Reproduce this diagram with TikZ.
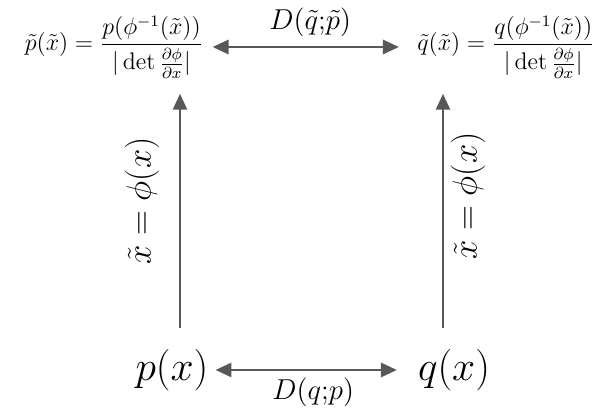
\documentclass[tikz,border=0pt]{standalone}
\usepackage{amsmath}
\usetikzlibrary{arrows.meta, positioning, calc}
\definecolor{ArrowGray}{RGB}{88, 88, 88}

\begin{document}
\begin{tikzpicture}[x=0.5pt,y=0.5pt,
  conn/.style={ArrowGray, line width=1.4pt,
    {Triangle[length=8pt,width=7pt]}-{Triangle[length=8pt,width=7pt]}},
  uparrow/.style={ArrowGray, line width=1.4pt, -{Triangle[length=8pt,width=7pt]}},
  dist/.style={text=black, font=\fontsize{15.5}{18}\selectfont},
  density/.style={font=\fontsize{19.5}{23}\selectfont},
  mapping/.style={font=\fontsize{18.5}{22}\selectfont, rotate=90},
  pushed/.style={font=\fontsize{11.5}{14}\selectfont}]
  \path[use as bounding box] (0,0) rectangle (606,411);

  % Transformed densities (top row)
  \node[pushed] (ptil) at (114,364)
    {$\displaystyle \tilde{p}(\tilde{x}) = \frac{p(\phi^{-1}(\tilde{x}))}{|\det\frac{\partial\phi}{\partial x}|}$};
  \node[pushed] (qtil) at (506,364)
    {$\displaystyle \tilde{q}(\tilde{x}) = \frac{q(\phi^{-1}(\tilde{x}))}{|\det\frac{\partial\phi}{\partial x}|}$};

  % Original densities (bottom row)
  \node[density] (px) at (172,41) {$p(x)$};
  \node[density] (qx) at (454,41) {$q(x)$};

  \coordinate (lx) at (180,0);
  \coordinate (rx) at (443,0);

  % Divergences
  \draw[conn, shorten <=1.2pt, shorten >=5.7pt] (ptil.east) -- (qtil.west)
    node[dist, midway, above=1pt] (dtop) {$D(\tilde{q}{;}\tilde{p})$};
  \draw[conn, shorten <=0pt, shorten >=7pt] (px.east) -- (qx.west)
    node[dist, midway, below] (dbot) {$D(q{;}p)$};

  % Change of variables
  \draw[uparrow, shorten <=7pt, shorten >=4.2pt] (px.north -| lx) -- (ptil.south -| lx);
  \draw[uparrow, shorten <=7pt, shorten >=4.2pt] (qx.north -| rx) -- (qtil.south -| rx);
  \node[mapping] (lmap) at (142,210) {$\tilde{x} = \phi(x)$};
  \node[mapping] (rmap) at (468,215) {$\tilde{x} = \phi(x)$};
\end{tikzpicture}
\end{document}
